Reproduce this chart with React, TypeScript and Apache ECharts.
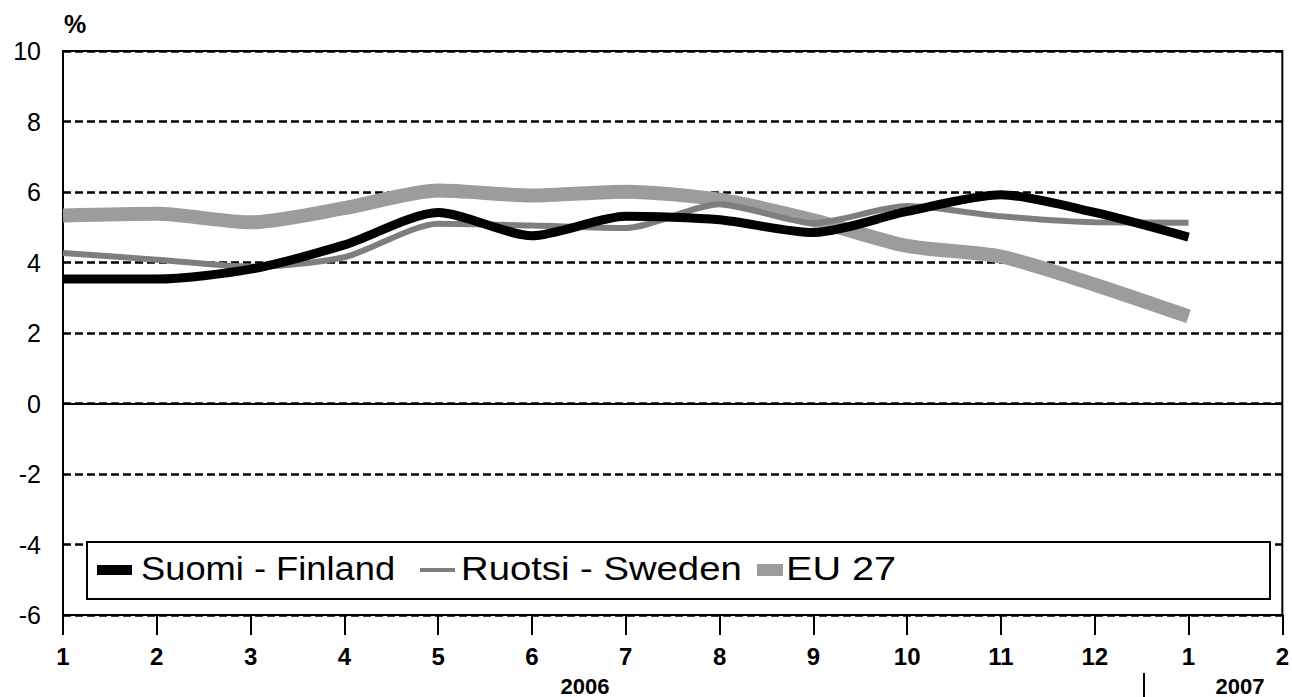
import React, { useEffect, useRef } from "react";
import * as echarts from "echarts";

const monthLabels = ["1", "2", "3", "4", "5", "6", "7", "8", "9", "10", "11", "12", "1", "2"];
const yTicks = [-6, -4, -2, 0, 2, 4, 6, 8, 10];
const finland = [3.53, 3.53, 3.81, 4.5, 5.42, 4.76, 5.31, 5.21, 4.85, 5.45, 5.92, 5.42, 4.72];
const sweden = [4.27, 4.08, 3.88, 4.15, 5.1, 5.05, 4.98, 5.65, 5.12, 5.6, 5.31, 5.14, 5.13];
const eu27 = [5.33, 5.38, 5.14, 5.54, 6.04, 5.9, 6.01, 5.78, 5.2, 4.47, 4.17, 3.37, 2.47];
const seriesNames = ["Suomi - Finland", "Ruotsi - Sweden", "EU 27"];
const yearLabels = ["2006", "2007"];

const FONT = '"Liberation Sans", Arial, Helvetica, sans-serif';

const toPairs = (arr: number[]) => arr.map((v, i) => [i, v]);

export default function App() {
  const ref = useRef<HTMLDivElement>(null);
  useEffect(() => {
    if (!ref.current) return;
    const chart = echarts.init(ref.current, undefined, { renderer: "svg" });
    const legendText = (text: string, x: number, scaleX: number) => ({
      type: "text",
      x,
      y: 569,
      scaleX,
      z: 102,
      style: {
        text,
        fill: "#000",
        font: `33px ${FONT}`,
        textAlign: "left",
        textVerticalAlign: "middle",
      },
    });
    const yearText = (text: string, x: number) => ({
      type: "text",
      x,
      y: 675,
      style: {
        text,
        fill: "#000",
        font: `bold 22px ${FONT}`,
        textAlign: "center",
        textVerticalAlign: "top",
      },
    });
    chart.setOption({
      animation: false,
      backgroundColor: "#fff",
      grid: {
        left: 63,
        right: 5,
        top: 51,
        bottom: 82,
        show: true,
        borderColor: "#000",
        borderWidth: 2,
        backgroundColor: "transparent",
      },
      xAxis: {
        type: "value",
        min: 0,
        max: monthLabels.length - 1,
        interval: 1,
        axisLine: { show: true, onZero: false, lineStyle: { color: "#000", width: 2 } },
        axisTick: { show: true, inside: false, length: 20, lineStyle: { color: "#000", width: 2 } },
        splitLine: { show: false },
        axisLabel: {
          margin: 29,
          color: "#000",
          fontFamily: FONT,
          fontWeight: "bold",
          fontSize: 24,
          showMinLabel: true,
          showMaxLabel: true,
          formatter: (v: number) => monthLabels[Math.round(v)] ?? "",
        },
      },
      yAxis: {
        type: "value",
        min: yTicks[0],
        max: yTicks[yTicks.length - 1],
        interval: 2,
        axisLine: { show: true, lineStyle: { color: "#000", width: 2 } },
        axisTick: { show: false },
        splitLine: { show: true, lineStyle: { color: "#000", width: 2.5, type: [8, 4] } },
        axisLabel: {
          margin: 22,
          color: "#000",
          fontFamily: FONT,
          fontSize: 25,
        },
      },
      series: [
        {
          name: seriesNames[2],
          type: "line",
          data: toPairs(eu27),
          showSymbol: false,
          symbol: "none",
          smooth: 0.25,
          z: 3,
          lineStyle: { color: "#9c9c9c", width: 14 },
          markLine: {
            silent: true,
            symbol: "none",
            label: { show: false },
            lineStyle: { color: "#000", width: 2, type: "solid" },
            data: [{ yAxis: 0 }],
            z: 2,
          },
        },
        {
          name: seriesNames[1],
          type: "line",
          data: toPairs(sweden),
          showSymbol: false,
          symbol: "none",
          smooth: 0.25,
          z: 4,
          lineStyle: { color: "#7e7e7e", width: 6 },
        },
        {
          name: seriesNames[0],
          type: "line",
          data: toPairs(finland),
          showSymbol: false,
          symbol: "none",
          smooth: 0.25,
          z: 5,
          lineStyle: { color: "#000", width: 9 },
        },
      ],
      graphic: [
        {
          type: "text",
          x: 64,
          y: 11,
          style: { text: "%", fill: "#000", font: `bold 25px ${FONT}` },
        },
        yearText(yearLabels[0], 585),
        yearText(yearLabels[1], 1240),
        {
          type: "line",
          shape: { x1: 1144, y1: 673, x2: 1144, y2: 697 },
          style: { stroke: "#000", lineWidth: 2 },
        },
        {
          type: "rect",
          z: 100,
          shape: { x: 87, y: 542, width: 1183, height: 57 },
          style: { fill: "#fff", stroke: "#000", lineWidth: 2 },
        },
        {
          type: "rect",
          z: 101,
          shape: { x: 97, y: 565, width: 35, height: 10 },
          style: { fill: "#000" },
        },
        {
          type: "rect",
          z: 101,
          shape: { x: 420, y: 568, width: 35, height: 4 },
          style: { fill: "#7e7e7e" },
        },
        {
          type: "rect",
          z: 101,
          shape: { x: 757, y: 564, width: 26, height: 12 },
          style: { fill: "#9c9c9c" },
        },
        legendText(seriesNames[0], 141, 1.1),
        legendText(seriesNames[1], 461, 1.16),
        legendText(seriesNames[2], 786, 1.2),
      ],
    });
    return () => chart.dispose();
  }, []);
  return (
    <div
      ref={ref}
      style={{ position: "fixed", left: 0, top: 0, width: 1292, height: 697, background: "#fff" }}
    />
  );
}
